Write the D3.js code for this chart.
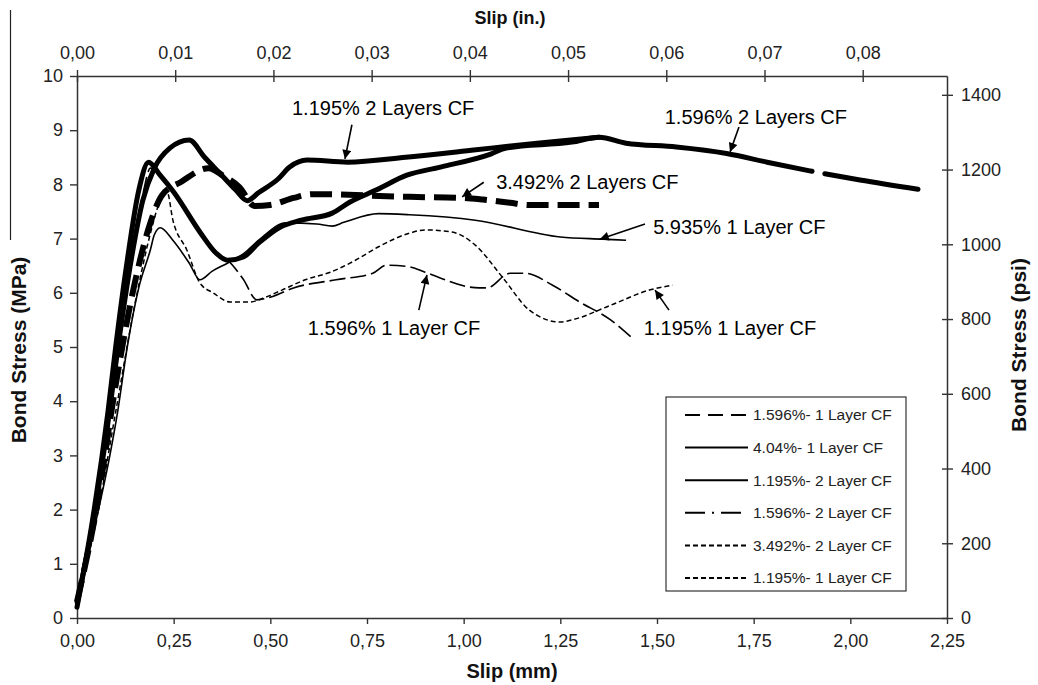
<!DOCTYPE html>
<html>
<head>
<meta charset="utf-8">
<script src="https://cdn.jsdelivr.net/npm/d3@7"></script>
<style>
  body { margin: 0; background: #fff; }
  svg { display: block; font-family: Arial, "Liberation Sans", sans-serif; }
</style>
</head>
<body>
<div id="chart"></div>
<script>
// slip (mm), bond stress (MPa)
var s1195two = [[0,0.3],[0.04,1.7],[0.08,3.6],[0.11,5.2],[0.14,6.6],[0.17,7.7],[0.2,8.3],[0.24,8.67],[0.29,8.82],
    [0.33,8.5],[0.37,8.2],[0.41,7.9],[0.44,7.7],[0.47,7.85],[0.52,8.1],[0.55,8.32],[0.595,8.45],[0.7,8.41],
    [0.85,8.5],[1.02,8.63],[1.19,8.76],[1.35,8.87]];
var s1596two = [[0,0.2],[0.04,1.8],[0.08,3.8],[0.1,5.0],[0.13,6.6],[0.16,7.9],[0.185,8.41],[0.215,8.17],[0.25,7.86],
    [0.32,7.1],[0.36,6.73],[0.39,6.6],[0.43,6.66],[0.47,6.92],[0.525,7.21],[0.58,7.34],[0.66,7.47],[0.705,7.67],
    [0.775,7.9],[0.853,8.17],[0.94,8.32],[1.07,8.56],[1.11,8.67],[1.28,8.78],[1.35,8.87],[1.42,8.76],[1.55,8.69],
    [1.68,8.57],[1.785,8.41],[1.895,8.25],[2.025,8.08],[2.175,7.91]];
var s3492two = [[0,0.3],[0.05,2.0],[0.1,4.3],[0.15,6.2],[0.19,7.3],[0.22,7.8],[0.27,8.05],[0.34,8.3],[0.38,8.15],
    [0.42,7.95],[0.46,7.6],[0.5,7.62],[0.56,7.75],[0.61,7.82],[0.86,7.77],[1.0,7.75],[1.05,7.72],[1.12,7.66],
    [1.17,7.62],[1.35,7.62]];
var s5935one = [[0,0.2],[0.04,1.5],[0.085,3.0],[0.105,3.8],[0.13,5.0],[0.16,6.1],[0.19,6.8],[0.2,7.07],[0.215,7.2],
    [0.25,6.95],[0.29,6.55],[0.318,6.24],[0.35,6.4],[0.39,6.55],[0.43,6.72],[0.47,6.97],[0.54,7.29],[0.62,7.27],
    [0.66,7.23],[0.69,7.3],[0.78,7.46],[0.86,7.44],[1.03,7.34],[1.25,7.03],[1.36,6.99],[1.42,6.97]];
var s1596one = [[0,0.2],[0.04,1.7],[0.08,3.7],[0.12,5.6],[0.15,7.0],[0.17,7.8],[0.19,8.3],[0.215,8.17],[0.25,7.86],
    [0.32,7.1],[0.36,6.73],[0.39,6.6],[0.43,6.25],[0.465,5.87],[0.5,5.92],[0.56,6.09],[0.67,6.24],[0.765,6.36],
    [0.8,6.51],[0.86,6.48],[0.9,6.38],[1.04,6.09],[1.06,6.09],[1.12,6.36],[1.16,6.36],[1.23,6.14],[1.3,5.83],
    [1.38,5.5],[1.435,5.17]];
var s1195one = [[0,0.3],[0.05,1.8],[0.1,3.8],[0.15,5.8],[0.19,7.1],[0.21,7.6],[0.233,7.86],[0.248,7.34],[0.284,6.79],
    [0.318,6.18],[0.352,6.0],[0.396,5.83],[0.447,5.83],[0.481,5.9],[0.53,6.05],[0.59,6.24],[0.655,6.38],[0.72,6.6],
    [0.78,6.85],[0.86,7.1],[0.9,7.16],[0.97,7.12],[1.03,6.88],[1.1,6.29],[1.17,5.68],[1.25,5.46],[1.28,5.5],
    [1.38,5.77],[1.48,6.05],[1.54,6.14]];

var bottomTicks = [0,0.25,0.5,0.75,1,1.25,1.5,1.75,2,2.25];
var topTicks = [0,0.01,0.02,0.03,0.04,0.05,0.06,0.07,0.08];
var leftTicks = [0,1,2,3,4,5,6,7,8,9,10];
var rightTicks = [0,200,400,600,800,1000,1200,1400];

var legendNames = ["1.596%- 1 Layer CF","4.04%- 1 Layer CF","1.195%- 2 Layer CF","1.596%- 2 Layer CF","3.492%- 2 Layer CF","1.195%- 1 Layer CF"];

// label text, label anchor (slip, MPa), arrow from, arrow tip
var notes = [
    ["1.195% 2 Layers CF", 0.556, 9.41, 0.711, 9.10, 0.693, 8.47],
    ["1.596% 2 Layers CF", 1.52, 9.24, 1.712, 9.06, 1.689, 8.60],
    ["3.492% 2 Layers CF", 1.084, 8.04, 1.052, 8.04, 0.996, 7.77],
    ["5.935% 1 Layer CF", 1.49, 7.21, 1.469, 7.27, 1.352, 6.99],
    ["1.596% 1 Layer CF", 0.597, 5.35, 0.884, 5.68, 0.905, 6.33],
    ["1.195% 1 Layer CF", 1.466, 5.35, 1.531, 5.68, 1.495, 6.05]
];

var W = 1038, H = 685;
var padL = 77, padR = 947, padT = 76, padB = 618;

var svg = d3.select("#chart").append("svg")
    .attr("width", W)
    .attr("height", H);

var x = d3.scaleLinear().domain([0, 2.25]).range([padL, padR]);
var y = d3.scaleLinear().domain([0, 10]).range([padB, padT]);
var xIn = d3.scaleLinear().domain([0, 2.25 / 25.4]).range([padL, padR]);
var yPsi = d3.scaleLinear().domain([0, 10 * 145.038]).range([padB, padT]);

var comma = function (f) { return function (d) { return d3.format(f)(d).replace(".", ","); }; };

// stray border line at the very left of the scan
svg.append("line").attr("x1", 10.5).attr("x2", 10.5).attr("y1", 10).attr("y2", 240)
    .attr("stroke", "#222").attr("stroke-width", 1.2);

var axisColor = "#333";

var gB = svg.append("g").attr("transform", "translate(0," + padB + ")")
    .call(d3.axisBottom(x).tickValues(bottomTicks).tickFormat(comma(".2f")).tickSizeInner(6).tickSizeOuter(0).tickPadding(10));
var gT = svg.append("g").attr("transform", "translate(0," + padT + ")")
    .call(d3.axisTop(xIn).tickValues(topTicks).tickFormat(comma(".2f")).tickSizeInner(6).tickSizeOuter(0).tickPadding(11));
gT.selectAll(".tick line").attr("y1", 6).attr("y2", -6);
var gL = svg.append("g").attr("transform", "translate(" + padL + ",0)")
    .call(d3.axisLeft(y).tickValues(leftTicks).tickFormat(d3.format("d")).tickSizeInner(7).tickSizeOuter(0).tickPadding(7));
var gR = svg.append("g").attr("transform", "translate(" + padR + ",0)")
    .call(d3.axisRight(yPsi).tickValues(rightTicks).tickFormat(d3.format("d")).tickSizeInner(6).tickSizeOuter(0).tickPadding(8));
gR.selectAll(".tick line").attr("x1", -5).attr("x2", 6);

[gB, gT, gL, gR].forEach(function (g) {
    g.select(".domain").attr("stroke", axisColor).attr("stroke-width", 1.5);
    g.selectAll(".tick line").attr("stroke", axisColor).attr("stroke-width", 1.4);
    g.selectAll(".tick text").attr("fill", "#222").style("font-size", "18px")
        .style("font-family", "Arial, 'Liberation Sans', sans-serif");
});

// axis titles
svg.append("text").attr("x", 512).attr("y", 678).attr("text-anchor", "middle")
    .style("font-size", "20px").style("font-weight", "bold").attr("fill", "#111").text("Slip (mm)");
svg.append("text").attr("x", 510).attr("y", 24).attr("text-anchor", "middle")
    .style("font-size", "18px").style("font-weight", "bold").attr("fill", "#111").text("Slip (in.)");
svg.append("text").attr("transform", "translate(26,350) rotate(-90)").attr("text-anchor", "middle")
    .style("font-size", "21px").style("font-weight", "bold").attr("fill", "#111").text("Bond Stress (MPa)");
svg.append("text").attr("transform", "translate(1026,345) rotate(-90)").attr("text-anchor", "middle")
    .style("font-size", "21px").style("font-weight", "bold").attr("fill", "#111").text("Bond Stress (psi)");

var line = d3.line().x(function (d) { return x(d[0]); }).y(function (d) { return y(d[1]); })
    .curve(d3.curveMonotoneX);

function draw(data, width, dash, cap) {
    return svg.append("path").datum(data).attr("d", line)
        .attr("fill", "none").attr("stroke", "#000")
        .attr("stroke-width", width)
        .attr("stroke-dasharray", dash)
        .attr("stroke-linecap", cap || "butt")
        .attr("stroke-linejoin", "round");
}

draw(s1195one, 1.5, "5 3");
draw(s1596one, 1.6, "16 5");
draw(s5935one, 1.6, null);
draw(s3492two, 6, "22 9");
draw(s1195two, 5, null, "round");
var p1596 = draw(s1596two, 5, null, "round");

// single break in the dash-dot curve near 1.9 mm
var node = p1596.node(), total = node.getTotalLength();
var lo = 0, hi = total, gx = x(1.9);
for (var i = 0; i < 30; i++) {
    var mid = (lo + hi) / 2;
    if (node.getPointAtLength(mid).x < gx) lo = mid; else hi = mid;
}
p1596.attr("stroke-dasharray", lo + " 13 " + total);

// annotations
svg.append("defs").append("marker")
    .attr("id", "arrow").attr("viewBox", "0 0 10 10")
    .attr("refX", 10).attr("refY", 5)
    .attr("markerWidth", 12).attr("markerHeight", 9)
    .attr("markerUnits", "userSpaceOnUse")
    .attr("orient", "auto")
    .append("path").attr("d", "M0,0 L10,5 L0,10 Z").attr("fill", "#000");

notes.forEach(function (n) {
    svg.append("line")
        .attr("x1", x(n[3])).attr("y1", y(n[4]))
        .attr("x2", x(n[5])).attr("y2", y(n[6]))
        .attr("stroke", "#000").attr("stroke-width", 1.6)
        .attr("marker-end", "url(#arrow)");
    svg.append("text")
        .attr("x", x(n[1])).attr("y", y(n[2])).attr("dy", "0.35em")
        .style("font-size", "20px").attr("fill", "#000")
        .text(n[0]);
});

// legend
var lg = svg.append("g");
lg.append("rect").attr("x", 666).attr("y", 397).attr("width", 240).attr("height", 194)
    .attr("fill", "#fff").attr("stroke", "#333").attr("stroke-width", 1.2);
var legendDash = ["15 8", null, null, "20 7 2 7", "5 3", "5 3"];
legendNames.forEach(function (name, i) {
    var yy = 415 + i * 32.6;
    lg.append("line").attr("x1", 685).attr("x2", 748).attr("y1", yy).attr("y2", yy)
        .attr("stroke", "#000").attr("stroke-width", 2)
        .attr("stroke-dasharray", legendDash[i]);
    lg.append("text").attr("x", 753).attr("y", yy).attr("dy", "0.35em")
        .style("font-size", "15.5px").attr("fill", "#222").text(name);
});
</script>
</body>
</html>
